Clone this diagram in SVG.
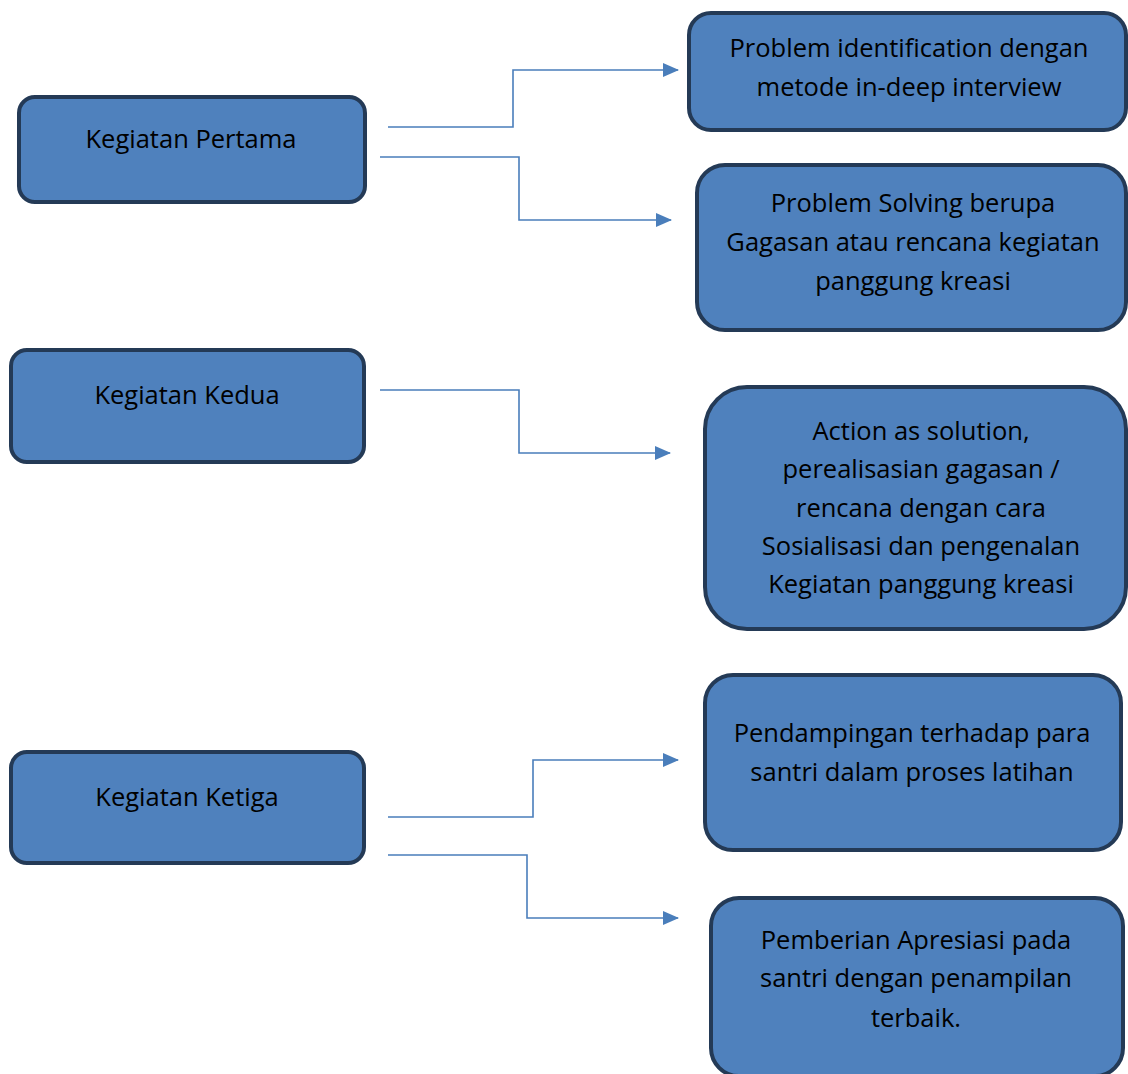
<svg xmlns="http://www.w3.org/2000/svg" width="1128" height="1074" viewBox="0 0 1128 1074">
<style>
.box{fill:#4F81BD;stroke:#243A56;stroke-width:4}
.t{font-family:"Open Sans",Lato,sans-serif;font-size:25.5px;fill:#000;text-anchor:middle}
.c{fill:none;stroke:#4A7EBB;stroke-width:1.6}
</style>
<defs>
<marker id="ah" markerWidth="16" markerHeight="14" refX="15" refY="7" orient="auto" markerUnits="userSpaceOnUse">
<path d="M0,0 L16,7 L0,14 Z" fill="#4A7EBB"/>
</marker>
</defs>
<rect width="1128" height="1074" fill="#fff"/>
<g id="connectors">
<path class="c" d="M388,127 H513 V70 H678" marker-end="url(#ah)"/>
<path class="c" d="M380,157 H519 V220 H671" marker-end="url(#ah)"/>
<path class="c" d="M380,390 H519 V453 H670" marker-end="url(#ah)"/>
<path class="c" d="M388,817 H533 V760 H678" marker-end="url(#ah)"/>
<path class="c" d="M388,855 H527 V918 H678" marker-end="url(#ah)"/>
</g>
<g id="n1"><rect class="box" x="19" y="97" width="346" height="105" rx="16"/><text class="t" x="191" y="148">Kegiatan Pertama</text></g>
<g id="n2"><rect class="box" x="11" y="350" width="353" height="112" rx="16"/><text class="t" x="187" y="404">Kegiatan Kedua</text></g>
<g id="n3"><rect class="box" x="11" y="752" width="353" height="111" rx="16"/><text class="t" x="187" y="806">Kegiatan Ketiga</text></g>
<g id="r1"><rect class="box" x="689" y="13" width="437" height="117" rx="22"/><text class="t" x="909" y="57">Problem identification dengan</text><text class="t" x="909" y="96">metode in-deep interview</text></g>
<g id="r2"><rect class="box" x="697" y="165" width="429" height="165" rx="28"/><text class="t" x="913" y="212">Problem Solving berupa</text><text class="t" x="913" y="251">Gagasan atau rencana kegiatan</text><text class="t" x="913" y="290">panggung kreasi</text></g>
<g id="r3"><rect class="box" x="705" y="387" width="421" height="242" rx="42"/><text class="t" x="921" y="440">Action as solution,</text><text class="t" x="921" y="478">perealisasian gagasan /</text><text class="t" x="921" y="517">rencana dengan cara</text><text class="t" x="921" y="555">Sosialisasi dan pengenalan</text><text class="t" x="921" y="593">Kegiatan panggung kreasi</text></g>
<g id="r4"><rect class="box" x="705" y="675" width="416" height="175" rx="28"/><text class="t" x="912" y="742">Pendampingan terhadap para</text><text class="t" x="912" y="781">santri dalam proses latihan</text></g>
<g id="r5"><rect class="box" x="711" y="898" width="412" height="178" rx="28"/><text class="t" x="916" y="949">Pemberian Apresiasi pada</text><text class="t" x="916" y="987">santri dengan penampilan</text><text class="t" x="916" y="1027">terbaik.</text></g>
</svg>
